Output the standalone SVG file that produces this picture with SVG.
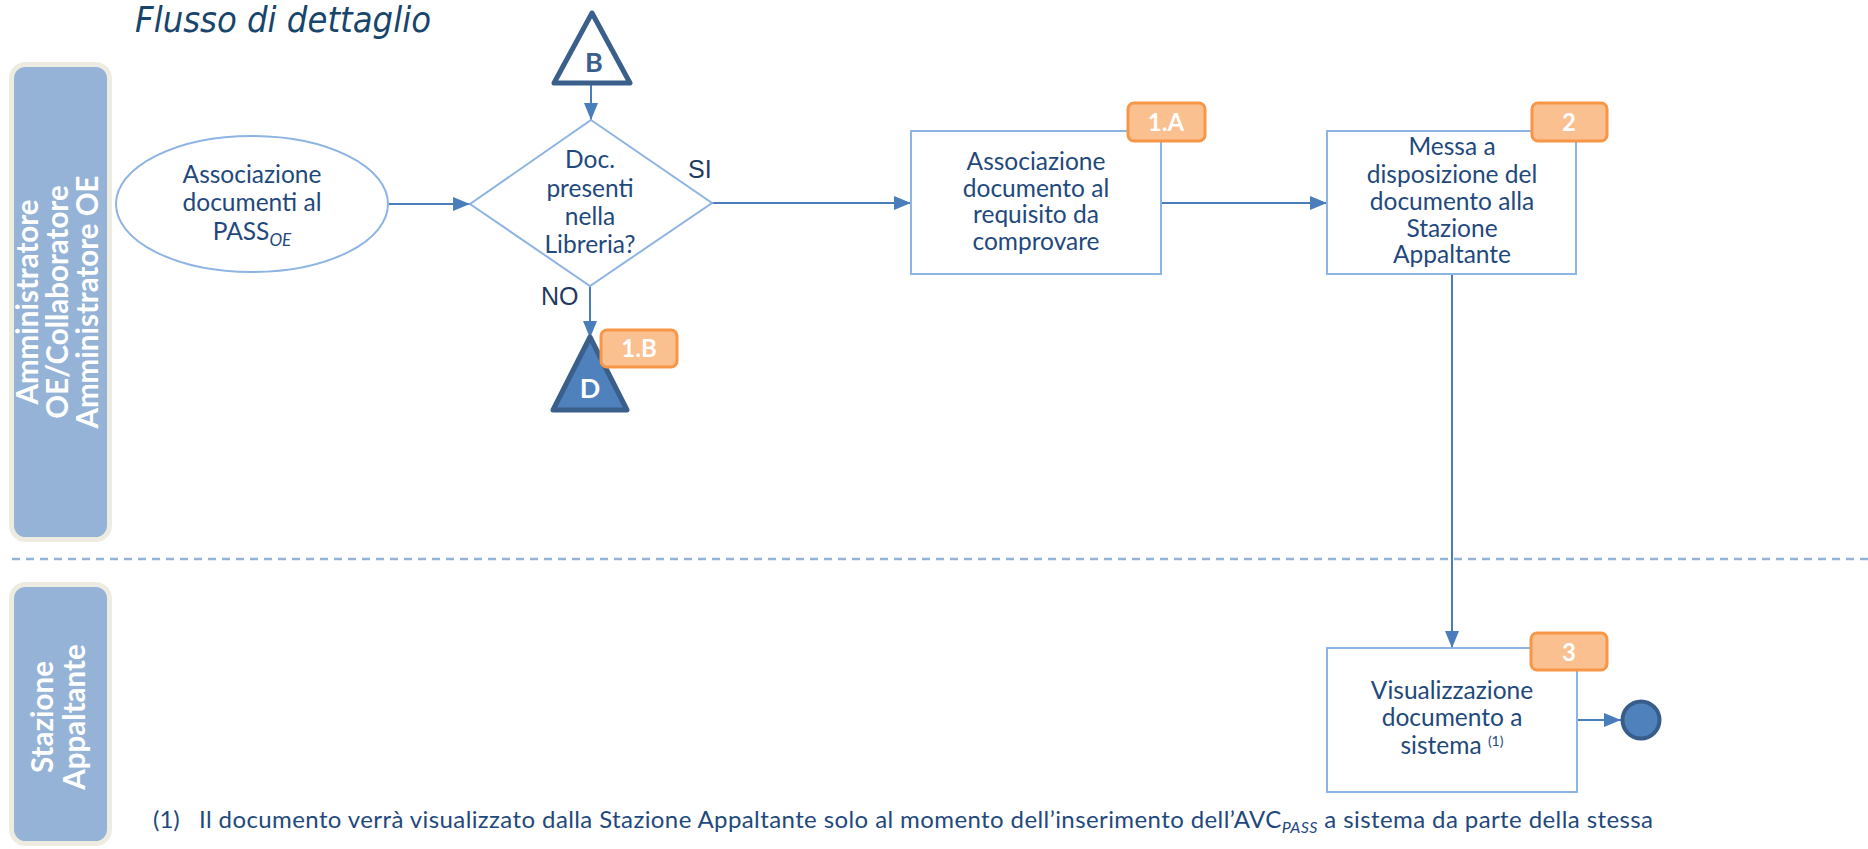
<svg xmlns="http://www.w3.org/2000/svg" width="1868" height="849" viewBox="0 0 1868 849">
<style>
.lane{fill:#95B3D7;stroke:#EEECE1;stroke-width:5}
.lanetxt{font-family:Lato,"Open Sans",sans-serif;font-weight:bold;font-size:29.5px;fill:#FFFFFF;text-anchor:middle}
.node{fill:#FFFFFF;stroke:#8EB4E3;stroke-width:2}
.txt{font-family:Lato,"Open Sans",sans-serif;font-size:24.5px;fill:#1F497D;text-anchor:middle}
.badge{fill:#FAC090;stroke:#F79646;stroke-width:3}
.btxt{font-family:Lato,"Open Sans",sans-serif;font-weight:bold;font-size:24px;fill:#FFFFFF;text-anchor:middle}
.lbl{font-family:"Liberation Sans",Arial,sans-serif;font-size:25px;fill:#1F3A60}
.conn{fill:none;stroke:#4A7EBB;stroke-width:2}
.tri{stroke:#3A5F8B;stroke-width:5;stroke-linejoin:round}
</style>
<defs>
<marker id="arr" markerUnits="userSpaceOnUse" markerWidth="17" markerHeight="14" refX="17" refY="7" orient="auto">
<path d="M0,0 L17,7 L0,14 z" fill="#4A7EBB"/>
</marker>
</defs>
<rect width="1868" height="849" fill="#FFFFFF"/>
<text x="135" y="32" font-family="DejaVu Sans Condensed,DejaVu Sans,sans-serif" font-style="italic" font-size="36" fill="#17456B" textLength="296" lengthAdjust="spacingAndGlyphs">Flusso di dettaglio</text>
<g id="lane-oe">
<rect class="lane" x="11.5" y="64.5" width="98" height="475" rx="14"/>
<text class="lanetxt" transform="translate(38,302) rotate(-90)" x="0" y="0">Amministratore</text>
<text class="lanetxt" transform="translate(68,302) rotate(-90)" x="0" y="0">OE/Collaboratore</text>
<text class="lanetxt" transform="translate(98,302) rotate(-90)" x="0" y="0">Amministratore OE</text>
</g>
<g id="lane-sa">
<rect class="lane" x="11.5" y="584.5" width="98" height="259" rx="14"/>
<text class="lanetxt" transform="translate(53,717) rotate(-90)" x="0" y="0">Stazione</text>
<text class="lanetxt" transform="translate(85,717) rotate(-90)" x="0" y="0">Appaltante</text>
</g>
<line x1="12" y1="559" x2="1868" y2="559" stroke="#95B3D7" stroke-width="2.5" stroke-dasharray="8,6"/>
<g id="connectors">
<path class="conn" d="M389,204 L470,204" marker-end="url(#arr)"/>
<path class="conn" d="M591,83 L591,120" marker-end="url(#arr)"/>
<path class="conn" d="M590,286 L590,338" marker-end="url(#arr)"/>
<path class="conn" d="M712,203 L911,203" marker-end="url(#arr)"/>
<path class="conn" d="M1161,203 L1327,203" marker-end="url(#arr)"/>
<path class="conn" d="M1452,274 L1452,648" marker-end="url(#arr)"/>
<path class="conn" d="M1577,720 L1621,720" marker-end="url(#arr)"/>
<text class="lbl" x="688" y="178">SI</text>
<text class="lbl" x="541" y="305">NO</text>
</g>
<g id="start">
<ellipse class="node" cx="252" cy="204" rx="136" ry="68"/>
<text class="txt" x="252" y="183">Associazione</text>
<text class="txt" x="252" y="211">documenti al</text>
<text class="txt" x="252" y="240">PASS<tspan font-size="17" font-style="italic" dy="6">OE</tspan></text>
</g>
<g id="connector-b">
<polygon class="tri" points="592,13 630,83 554,83" fill="#FFFFFF"/>
<text x="594" y="72" font-family="Lato,sans-serif" font-weight="bold" font-size="27" fill="#3A5F8B" text-anchor="middle">B</text>
</g>
<g id="decision">
<polygon class="node" points="591,120 712,203 590,286 470,204"/>
<text class="txt" x="590" y="168">Doc.</text>
<text class="txt" x="590" y="197">presenti</text>
<text class="txt" x="590" y="225">nella</text>
<text class="txt" x="590" y="253">Libreria?</text>
</g>
<g id="connector-d">
<polygon class="tri" points="590,337 627,410 553,410" fill="#4F81BD"/>
<text x="590" y="398" font-family="Lato,sans-serif" font-weight="bold" font-size="27" fill="#FFFFFF" text-anchor="middle">D</text>
<rect class="badge" x="601" y="330" width="76" height="37" rx="6"/>
<text class="btxt" x="639" y="357">1.B</text>
</g>
<g id="step-1a">
<rect class="node" x="911" y="131" width="250" height="143"/>
<text class="txt" x="1036" y="170">Associazione</text>
<text class="txt" x="1036" y="197">documento al</text>
<text class="txt" x="1036" y="223">requisito da</text>
<text class="txt" x="1036" y="250">comprovare</text>
<rect class="badge" x="1128" y="103" width="77" height="38" rx="6"/>
<text class="btxt" x="1166" y="131">1.A</text>
</g>
<g id="step-2">
<rect class="node" x="1327" y="131" width="249" height="143"/>
<text class="txt" x="1452" y="155">Messa a</text>
<text class="txt" x="1452" y="183">disposizione del</text>
<text class="txt" x="1452" y="210">documento alla</text>
<text class="txt" x="1452" y="237">Stazione</text>
<text class="txt" x="1452" y="263">Appaltante</text>
<rect class="badge" x="1532" y="103" width="75" height="38" rx="6"/>
<text class="btxt" x="1569" y="131">2</text>
</g>
<g id="step-3">
<rect class="node" x="1327" y="648" width="250" height="144"/>
<text class="txt" x="1452" y="699">Visualizzazione</text>
<text class="txt" x="1452" y="726">documento a</text>
<text class="txt" x="1452" y="754">sistema <tspan font-size="14" dy="-8">(1)</tspan></text>
<rect class="badge" x="1531" y="633" width="76" height="37" rx="6"/>
<text class="btxt" x="1569" y="661">3</text>
</g>
<g id="end">
<circle cx="1641" cy="720" r="18.5" fill="#4F81BD" stroke="#385D8A" stroke-width="4"/>
</g>
<g id="footnote">
<text x="153" y="828" font-family="Lato,sans-serif" font-size="24" fill="#1F497D">(1)</text>
<text x="199" y="828" font-family="Lato,sans-serif" font-size="24" fill="#1F497D" textLength="1454" lengthAdjust="spacing">Il documento verrà visualizzato dalla Stazione Appaltante solo al momento dell’inserimento dell’AVC<tspan font-size="16" font-style="italic" dy="5">PASS</tspan><tspan dy="-5"> a sistema da parte della stessa</tspan></text>
</g>
</svg>
